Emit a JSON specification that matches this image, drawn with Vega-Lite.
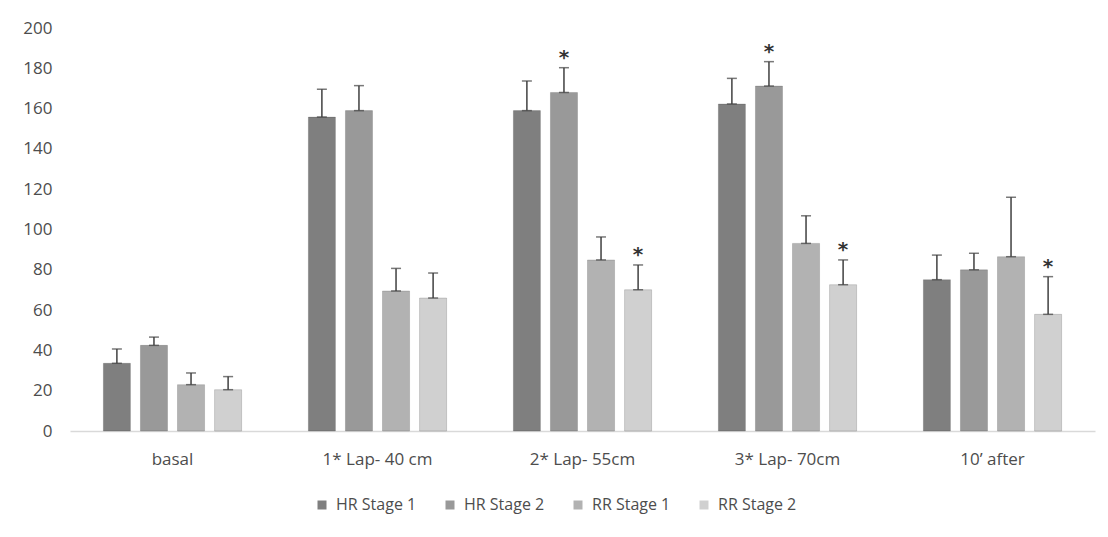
{
  "$schema": "https://vega.github.io/schema/vega-lite/v6.json",
  "autosize": "none",
  "padding": {"left": 70, "top": 28, "right": 13, "bottom": 106},
  "width": 1025,
  "height": 403,
  "background": "white",
  "config": {
    "view": {"stroke": null},
    "font": "Open Sans",
    "axis": {"labelFont": "Open Sans", "labelColor": "#4d4d4d", "labelFontSize": 17, "grid": false, "ticks": false, "domain": false, "title": null},
    "legend": {"labelFont": "Open Sans", "labelColor": "#4d4d4d", "labelFontSize": 16}
  },
  "data": {
    "values": [
      {"group": "basal", "series": "HR Stage 1", "value": 33.6, "err": 40.7, "star": false},
      {"group": "basal", "series": "HR Stage 2", "value": 42.5, "err": 46.6, "star": false},
      {"group": "basal", "series": "RR Stage 1", "value": 23.0, "err": 28.8, "star": false},
      {"group": "basal", "series": "RR Stage 2", "value": 20.5, "err": 27.0, "star": false},
      {"group": "1* Lap- 40 cm", "series": "HR Stage 1", "value": 155.8, "err": 169.6, "star": false},
      {"group": "1* Lap- 40 cm", "series": "HR Stage 2", "value": 159.0, "err": 171.4, "star": false},
      {"group": "1* Lap- 40 cm", "series": "RR Stage 1", "value": 69.5, "err": 80.7, "star": false},
      {"group": "1* Lap- 40 cm", "series": "RR Stage 2", "value": 66.0, "err": 78.4, "star": false},
      {"group": "2* Lap- 55cm", "series": "HR Stage 1", "value": 159.0, "err": 173.7, "star": false},
      {"group": "2* Lap- 55cm", "series": "HR Stage 2", "value": 168.0, "err": 180.3, "star": true},
      {"group": "2* Lap- 55cm", "series": "RR Stage 1", "value": 84.9, "err": 96.3, "star": false},
      {"group": "2* Lap- 55cm", "series": "RR Stage 2", "value": 70.1, "err": 82.4, "star": true},
      {"group": "3* Lap- 70cm", "series": "HR Stage 1", "value": 162.3, "err": 175.0, "star": false},
      {"group": "3* Lap- 70cm", "series": "HR Stage 2", "value": 171.2, "err": 183.3, "star": true},
      {"group": "3* Lap- 70cm", "series": "RR Stage 1", "value": 93.1, "err": 106.8, "star": false},
      {"group": "3* Lap- 70cm", "series": "RR Stage 2", "value": 72.6, "err": 84.9, "star": true},
      {"group": "10’ after", "series": "HR Stage 1", "value": 75.1, "err": 87.3, "star": false},
      {"group": "10’ after", "series": "HR Stage 2", "value": 80.0, "err": 88.2, "star": false},
      {"group": "10’ after", "series": "RR Stage 1", "value": 86.5, "err": 116.0, "star": false},
      {"group": "10’ after", "series": "RR Stage 2", "value": 57.9, "err": 76.6, "star": true}
    ]
  },
  "encoding": {
    "x": {
      "field": "group", "type": "nominal",
      "sort": ["basal", "1* Lap- 40 cm", "2* Lap- 55cm", "3* Lap- 70cm", "10’ after"],
      "scale": {"paddingInner": 0, "paddingOuter": 0},
      "axis": {"labelAngle": 0, "labelPadding": 20, "domain": true, "domainColor": "#d9d9d9", "domainWidth": 1.5}
    },
    "xOffset": {
      "field": "series", "type": "nominal",
      "sort": ["HR Stage 1", "HR Stage 2", "RR Stage 1", "RR Stage 2"],
      "scale": {"paddingInner": 0.27, "paddingOuter": 0.9}
    }
  },
  "layer": [
    {
      "mark": {"type": "bar", "stroke": "#000000", "strokeOpacity": 0.15, "strokeWidth": 1},
      "encoding": {
        "y": {
          "field": "value", "type": "quantitative",
          "scale": {"domain": [0, 200]},
          "axis": {"values": [0, 20, 40, 60, 80, 100, 120, 140, 160, 180, 200], "labelPadding": 18}
        },
        "color": {
          "field": "series", "type": "nominal",
          "sort": ["HR Stage 1", "HR Stage 2", "RR Stage 1", "RR Stage 2"],
          "scale": {"range": ["#7f7f7f", "#999999", "#b2b2b2", "#d0d0d0"]},
          "legend": {"orient": "none", "legendX": 244, "legendY": 469, "direction": "horizontal", "title": null, "symbolType": "square", "symbolSize": 81, "symbolStrokeWidth": 0, "columnPadding": 25, "labelOffset": 6}
        }
      }
    },
    {
      "mark": {"type": "rule", "color": "#404040", "strokeWidth": 1.5},
      "encoding": {
        "y": {"field": "value", "type": "quantitative"},
        "y2": {"field": "err"}
      }
    },
    {
      "mark": {"type": "tick", "color": "#404040", "size": 10, "thickness": 1.5},
      "encoding": {"y": {"field": "err", "type": "quantitative"}}
    },
    {
      "mark": {"type": "tick", "color": "#404040", "size": 10, "thickness": 1.5},
      "encoding": {"y": {"field": "value", "type": "quantitative"}}
    },
    {
      "transform": [{"filter": "datum.star"}],
      "mark": {"type": "text", "text": "*", "fontSize": 20, "fontWeight": "bold", "font": "DejaVu Sans", "color": "#333333", "baseline": "middle", "dy": -10},
      "encoding": {"y": {"field": "err", "type": "quantitative"}}
    }
  ]
}
